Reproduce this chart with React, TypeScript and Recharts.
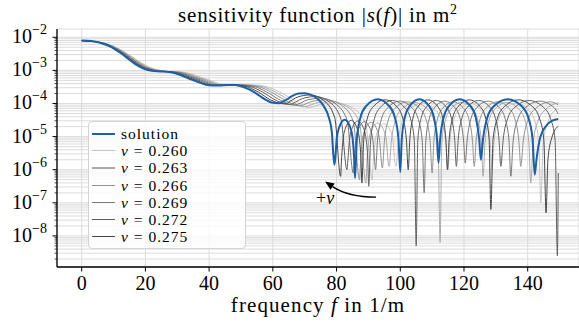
import { LineChart, Line, XAxis, YAxis, CartesianGrid, ReferenceLine } from 'recharts'

// |s(f)| as [f in 1/m, log10 |s| in m^2]
const solution: [number, number][] = [
  [0, -2.1], [3, -2.11], [6, -2.17], [9, -2.28], [12, -2.46], [15, -2.68], [18, -2.88], [20, -2.97],
  [22, -3.01], [25, -3.03], [28, -3.06], [31, -3.14], [34, -3.26], [37, -3.37], [40, -3.45], [43, -3.46],
  [46, -3.44], [48, -3.44], [50, -3.48], [52, -3.55], [54, -3.65], [56, -3.78], [58, -3.9], [60, -3.98],
  [62, -3.99], [64, -3.9], [66, -3.78], [68, -3.7], [70, -3.69], [72, -3.74], [74, -3.86], [76, -4.08],
  [77.5, -4.4], [78.5, -4.85], [79.3, -5.85],
  [79.56, -5.69], [80.08, -5.04], [80.93, -4.69], [82.55, -4.49], [84.18, -4.69], [85.02, -5.04], [85.54, -5.69], [85.8, -6.25],
  [86.37, -5.07], [87.5, -4.42], [89.35, -4.07], [92.9, -3.87], [96.45, -4.07], [98.3, -4.42], [99.43, -5.07], [100, -6.07],
  [100.48, -5.07], [101.44, -4.42], [103, -4.07], [106, -3.87], [109, -4.07], [110.56, -4.42], [111.52, -5.07], [112, -5.8],
  [112.53, -5.07], [113.6, -4.42], [115.33, -4.07], [118.65, -3.87], [121.98, -4.07], [123.7, -4.42], [124.77, -5.07], [125.3, -5.7],
  [125.98, -5.07], [127.33, -4.42], [129.53, -4.07], [133.75, -3.87], [137.98, -4.07], [140.17, -4.42], [141.52, -5.07], [142.2, -6.15],
  [142.78, -5.67], [143.95, -5.02], [145.85, -4.67], [147.7, -4.52], [149.6, -4.47],
]

const nu275: [number, number][] = [
  [0, -2.1], [6.15, -2.17], [12.3, -2.46], [15.38, -2.68], [18.45, -2.88], [22.55, -3.01], [28.7, -3.06], [34.85, -3.26],
  [41, -3.45], [47.15, -3.44], [51.25, -3.48], [55.35, -3.65], [59.45, -3.9], [63.55, -4.01], [67.65, -3.81], [71.75, -3.74],
  [75.85, -3.9], [79.44, -4.43], [81.28, -6.2],
  [81.55, -5.71], [82.08, -5.06], [82.95, -4.71], [84.61, -4.51], [86.28, -4.71], [87.15, -5.06], [87.68, -5.71], [87.95, -6.4],
  [88.53, -5.09], [89.69, -4.44], [91.58, -4.09], [95.22, -3.89], [98.86, -4.09], [100.76, -4.44], [101.92, -5.09], [102.5, -6.0],
  [102.99, -5.09], [103.98, -4.44], [105.58, -4.09], [108.65, -3.89], [111.73, -4.09], [113.32, -4.44], [114.31, -5.09], [114.8, -6.0],
  [115.34, -5.09], [116.44, -4.44], [118.21, -4.09], [121.62, -3.89], [125.03, -4.09], [126.79, -4.44], [127.89, -5.09], [128.43, -7.2],
  [129.13, -5.09], [130.51, -4.44], [132.77, -4.09], [137.09, -3.89], [141.43, -4.09], [143.67, -4.44], [145.06, -5.09], [145.76, -7.3],
  [146.35, -5.69], [147.55, -5.04], [149.6, -4.68],
]

const nu272: [number, number][] = [
  [0, -2.1], [6.3, -2.17], [12.6, -2.46], [15.75, -2.68], [18.9, -2.88], [23.1, -3.01], [29.4, -3.06], [35.7, -3.26],
  [42, -3.45], [48.3, -3.44], [52.5, -3.48], [56.7, -3.65], [60.9, -3.9], [65.1, -4.03], [69.3, -3.85], [73.5, -3.79],
  [77.7, -3.95], [81.38, -4.47], [83.27, -6.0],
  [83.54, -5.73], [84.08, -5.08], [84.98, -4.73], [86.68, -4.53], [88.39, -4.73], [89.27, -5.08], [89.82, -5.73], [90.09, -6.5],
  [90.69, -5.11], [91.88, -4.46], [93.82, -4.11], [97.55, -3.91], [101.27, -4.11], [103.22, -4.46], [104.4, -5.11], [105, -8.3],
  [105.5, -5.11], [106.51, -4.46], [108.15, -4.11], [111.3, -3.91], [114.45, -4.11], [116.09, -4.46], [117.1, -5.11], [117.6, -5.9],
  [118.16, -5.11], [119.28, -4.46], [121.1, -4.11], [124.58, -3.91], [128.08, -4.11], [129.89, -4.46], [131.01, -5.11], [131.57, -5.9],
  [132.28, -5.11], [133.7, -4.46], [136.01, -4.11], [140.44, -3.91], [144.88, -4.11], [147.18, -4.46], [148.6, -5.11], [149.31, -8.6],
  [149.6, -6.1],
]

const nu269: [number, number][] = [
  [0, -2.1], [6.45, -2.17], [12.9, -2.46], [16.13, -2.68], [19.35, -2.88], [23.65, -3.01], [30.1, -3.06], [36.55, -3.26],
  [43, -3.45], [49.45, -3.44], [53.75, -3.48], [58.05, -3.65], [62.35, -3.9], [66.65, -4.05], [70.95, -3.89], [75.25, -3.84],
  [79.55, -4.0], [83.31, -4.5], [85.25, -6.1],
  [85.53, -5.75], [86.09, -5.1], [87, -4.75], [88.74, -4.55], [90.49, -4.75], [91.4, -5.1], [91.96, -5.75], [92.24, -6.0],
  [92.85, -5.13], [94.06, -4.48], [96.05, -4.13], [99.87, -3.93], [103.68, -4.13], [105.67, -4.48], [106.89, -5.13], [107.5, -6.7],
  [108.02, -5.13], [109.05, -4.48], [110.73, -4.13], [113.95, -3.93], [117.18, -4.13], [118.85, -4.48], [119.88, -5.13], [120.4, -5.8],
  [120.97, -5.13], [122.12, -4.48], [123.98, -4.13], [127.55, -3.93], [131.13, -4.13], [132.98, -4.48], [134.13, -5.13], [134.7, -6.2],
  [135.43, -5.13], [136.88, -4.48], [139.24, -4.13], [143.78, -3.93], [148.33, -4.13], [149.6, -4.32],
]

const nu266: [number, number][] = [
  [0, -2.1], [6.6, -2.17], [13.2, -2.46], [16.5, -2.68], [19.8, -2.88], [24.2, -3.01], [30.8, -3.06], [37.4, -3.26],
  [44, -3.45], [50.6, -3.44], [55, -3.48], [59.4, -3.65], [63.8, -3.9], [68.2, -4.07], [72.6, -3.93], [77, -3.89],
  [81.4, -4.04], [85.25, -4.54], [87.23, -6.3],
  [87.52, -5.77], [88.09, -5.12], [89.02, -4.77], [90.81, -4.57], [92.6, -4.77], [93.52, -5.12], [94.09, -5.77], [94.38, -5.95],
  [95.01, -5.15], [96.25, -4.5], [98.29, -4.15], [102.19, -3.95], [106.1, -4.15], [108.13, -4.5], [109.37, -5.15], [110, -6.1],
  [110.53, -5.15], [111.58, -4.5], [113.3, -4.15], [116.6, -3.95], [119.9, -4.15], [121.62, -4.5], [122.67, -5.15], [123.2, -5.9],
  [123.78, -5.15], [124.96, -4.5], [126.86, -4.15], [130.52, -3.95], [134.18, -4.15], [136.07, -4.5], [137.25, -5.15], [137.83, -5.9],
  [138.58, -5.15], [140.06, -4.5], [142.48, -4.15], [147.13, -3.95], [149.6, -4.04],
]

const nu263: [number, number][] = [
  [0, -2.1], [6.75, -2.17], [13.5, -2.46], [16.88, -2.68], [20.25, -2.88], [24.75, -3.01], [31.5, -3.06], [38.25, -3.26],
  [45, -3.45], [51.75, -3.44], [56.25, -3.48], [60.75, -3.65], [65.25, -3.9], [69.75, -4.1], [74.25, -3.97], [78.75, -3.95],
  [83.25, -4.09], [87.19, -4.57], [89.21, -6.4],
  [89.51, -5.79], [90.09, -5.14], [91.05, -4.79], [92.87, -4.59], [94.7, -4.79], [95.65, -5.14], [96.23, -5.79], [96.53, -5.9],
  [97.17, -5.17], [98.44, -4.52], [100.52, -4.17], [104.51, -3.97], [108.51, -4.17], [110.59, -4.52], [111.86, -5.17], [112.5, -8.2],
  [113.04, -5.17], [114.12, -4.52], [115.88, -4.17], [119.25, -3.97], [122.63, -4.17], [124.38, -4.52], [125.46, -5.17], [126, -6.2],
  [126.6, -5.17], [127.8, -4.52], [129.75, -4.17], [133.48, -3.97], [137.23, -4.17], [139.16, -4.52], [140.37, -5.17], [140.96, -6.4],
  [141.73, -5.17], [143.25, -4.52], [145.72, -4.17], [149.6, -3.98],
]

const nu260: [number, number][] = [
  [0, -2.1], [6.9, -2.17], [13.8, -2.46], [17.25, -2.68], [20.7, -2.88], [25.3, -3.01], [32.2, -3.06], [39.1, -3.26],
  [46, -3.45], [52.9, -3.44], [57.5, -3.48], [62.1, -3.65], [66.7, -3.9], [71.3, -4.12], [75.9, -4.01], [80.5, -4.0],
  [85.1, -4.14], [89.13, -4.6], [91.2, -6.3],
  [91.49, -5.81], [92.09, -5.16], [93.07, -4.81], [94.93, -4.61], [96.81, -4.81], [97.77, -5.16], [98.37, -5.81], [98.67, -5.9],
  [99.33, -5.19], [100.63, -4.54], [102.75, -4.19], [106.84, -3.99], [110.92, -4.19], [113.05, -4.54], [114.34, -5.19], [115, -6.0],
  [115.55, -5.19], [116.66, -4.54], [118.45, -4.19], [121.9, -3.99], [125.35, -4.19], [127.14, -4.54], [128.25, -5.19], [128.8, -6.0],
  [129.41, -5.19], [130.64, -4.54], [132.63, -4.19], [136.45, -3.99], [140.28, -4.19], [142.26, -4.54], [143.49, -5.19], [144.1, -7.0],
  [144.88, -5.19], [146.43, -4.54], [148.95, -4.19], [149.6, -4.16],
]

const nuLabels = ['0.260', '0.263', '0.266', '0.269', '0.272', '0.275']
const nuCurves = [nu260, nu263, nu266, nu269, nu272, nu275]
const grays = ['#c4c4c4', '#aaaaaa', '#919191', '#777777', '#5e5e5e', '#454545']
const BLUE = '#1d5fa5'

const xTicks = [0, 20, 40, 60, 80, 100, 120, 140]
const majorExp = [-8, -7, -6, -5, -4, -3, -2]
const minorMantissa = [2, 3, 4, 5, 6, 7, 8, 9]
const minorExp = [-9, -8, -7, -6, -5, -4, -3]

// arrow "+nu" annotation, [f, log10 |s|]
const arrowTail = [92.4, -6.83]
const arrowHead = [76.4, -6.36]

const FONT = "'Liberation Serif', 'Times New Roman', serif"

const majorTicks = majorExp.map((e) => Math.pow(10, e))
const minorTicks = minorExp.flatMap((e) => minorMantissa.map((m) => m * Math.pow(10, e)))
const yTicks = [...minorTicks, ...majorTicks].sort((a, b) => a - b)

const toRows = (pts: [number, number][]) => pts.map(([f, lg]) => ({ f, s: Math.pow(10, lg) }))

function YTick({ x, y, payload }: any) {
  const lg = Math.log10(payload.value)
  const major = Math.abs(lg - Math.round(lg)) < 1e-6
  return (
    <g>
      <line x1={x - (major ? 4.5 : 2.5)} x2={x} y1={y} y2={y} stroke="#000" strokeWidth={major ? 1 : 0.7} />
      {major && (
        <text x={x - 10} y={y + 6} textAnchor="end" fontFamily={FONT} fontSize={20} fill="#000">
          10<tspan dy={-9} fontSize={14}>{'\u2212' + -Math.round(lg)}</tspan>
        </text>
      )}
    </g>
  )
}

function XTick({ x, y, payload }: any) {
  return (
    <g>
      <line x1={x} x2={x} y1={y} y2={y + 4.5} stroke="#000" strokeWidth={1} />
      <text x={x} y={y + 23} textAnchor="middle" fontFamily={FONT} fontSize={20} fill="#000">
        {payload.value}
      </text>
    </g>
  )
}

function XLabel({ viewBox }: any) {
  const { x, y, width } = viewBox
  return (
    <text
      x={x + width / 2}
      y={y + 45}
      textAnchor="middle"
      fontFamily={FONT}
      fontSize={21}
      letterSpacing={1.1}
      fill="#000"
    >
      frequency <tspan fontStyle="italic">f</tspan> in 1/m
    </text>
  )
}

function CurvedArrow(props: any) {
  const { x1, y1, x2, y2 } = props
  const dx = x2 - x1
  const dy = y2 - y1
  const len = Math.hypot(dx, dy)
  // bend the shaft a little below the chord
  const cx = (x1 + x2) / 2 + (dy / len) * 8
  const cy = (y1 + y2) / 2 - (dx / len) * 8
  const ul = Math.hypot(x2 - cx, y2 - cy)
  const ux = (x2 - cx) / ul
  const uy = (y2 - cy) / ul
  const bx = x2 - ux * 9
  const by = y2 - uy * 9
  return (
    <g>
      <path d={`M${x1},${y1} Q${cx},${cy} ${bx},${by}`} fill="none" stroke="#000" strokeWidth={1.3} />
      <polygon
        points={`${x2},${y2} ${bx - uy * 3.8},${by + ux * 3.8} ${bx + uy * 3.8},${by - ux * 3.8}`}
        fill="#000"
      />
      <text x={x2} y={y2 + 22} textAnchor="middle" fontFamily={FONT} fontSize={18} fill="#000">
        +<tspan fontStyle="italic">ν</tspan>
      </text>
    </g>
  )
}

const legendRows = [
  { label: 'solution', color: BLUE, width: 2.2, math: false },
  ...nuLabels.map((v, i) => ({ label: v, color: grays[i], width: 1.2, math: true })),
]

export default function App() {
  return (
    <div style={{ position: 'relative', width: 579, height: 327, background: '#fff' }}>
      <style>{'body{margin:0;overflow:hidden}'}</style>
      <LineChart width={579} height={327} margin={{ top: 29, right: 0, bottom: 0, left: 0 }}>
        <CartesianGrid stroke="#d8d8d8" strokeWidth={0.9} />
        <XAxis
          dataKey="f"
          type="number"
          domain={[-7.75, 156.1]}
          ticks={xTicks}
          allowDataOverflow
          height={60}
          tickSize={0}
          tickMargin={0}
          tickLine={false}
          tick={<XTick />}
          axisLine={{ stroke: '#000', strokeWidth: 1.3 }}
          label={XLabel}
        />
        <XAxis
          xAxisId="top"
          orientation="top"
          type="number"
          domain={[-7.75, 156.1]}
          height={0}
          tick={false}
          tickLine={false}
          axisLine={{ stroke: '#000', strokeWidth: 1.3 }}
        />
        <YAxis
          scale="log"
          type="number"
          domain={[1.15e-9, 1.78e-2]}
          ticks={yTicks}
          interval={0}
          allowDataOverflow
          width={57}
          tickSize={0}
          tickMargin={0}
          tickLine={false}
          tick={<YTick />}
          axisLine={{ stroke: '#000', strokeWidth: 1.3 }}
        />
        {nuCurves.map((pts, i) => (
          <Line
            key={nuLabels[i]}
            data={toRows(pts)}
            dataKey="s"
            type="monotone"
            dot={false}
            stroke={grays[i]}
            strokeWidth={1}
            isAnimationActive={false}
          />
        ))}
        <Line
          data={toRows(solution)}
          dataKey="s"
          type="monotone"
          dot={false}
          stroke={BLUE}
          strokeWidth={2}
          isAnimationActive={false}
        />
        <ReferenceLine
          segment={[
            { x: arrowTail[0], y: Math.pow(10, arrowTail[1]) },
            { x: arrowHead[0], y: Math.pow(10, arrowHead[1]) },
          ]}
          shape={CurvedArrow}
        />
      </LineChart>
      <svg width={579} height={29} style={{ position: 'absolute', left: 0, top: 0 }}>
        <text x={318} y={21.5} textAnchor="middle" fontFamily={FONT} fontSize={21} letterSpacing={0.8} fill="#000">
          sensitivity function |<tspan fontStyle="italic">s</tspan>(<tspan fontStyle="italic">f</tspan>)| in m
          <tspan dy={-8} fontSize={14}>2</tspan>
        </text>
      </svg>
      <div
        style={{
          position: 'absolute',
          left: 88,
          top: 121,
          width: 158,
          height: 128,
          boxSizing: 'border-box',
          border: '1px solid #d4d4d4',
          borderRadius: 4,
          background: 'rgba(255,255,255,0.8)',
          paddingTop: 3,
          fontFamily: FONT,
          fontSize: 15.5,
          letterSpacing: 1,
        }}
      >
        {legendRows.map((r) => (
          <div key={r.label} style={{ display: 'flex', alignItems: 'center', height: 17.2, lineHeight: '17.2px' }}>
            <div style={{ marginLeft: 3, width: 23, height: r.width, background: r.color }} />
            <div style={{ marginLeft: 6, whiteSpace: 'nowrap' }}>
              {r.math ? <i>ν</i> : null}
              {r.math ? ' = ' + r.label : r.label}
            </div>
          </div>
        ))}
      </div>
    </div>
  )
}
